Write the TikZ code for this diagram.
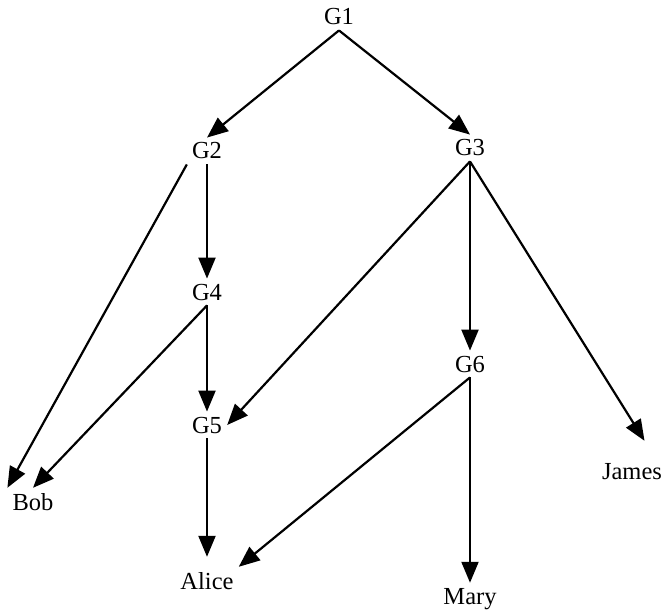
\documentclass[tikz,border=0pt]{standalone}
\usepackage{fontspec}
\setmainfont{Liberation Serif}
\usetikzlibrary{arrows.meta}

\begin{document}
\begin{tikzpicture}[
    x=1pt, y=-1pt,
    font=\fontsize{24.5}{28}\selectfont,
    >={Triangle[length=21pt,width=17pt]},
    grp/.style={
        anchor=base,
        inner sep=5pt
    },
    edge/.style={
        ->,
        line width=2.2pt
    }
]
\useasboundingbox (0,0) rectangle (664,615);

% Group nodes
\node[grp] (g1) at (339,25) {G1};
\node[grp] (g2) at (207,159) {G2};
\node[grp] (g3) at (470,156) {G3};
\node[grp] (g4) at (207,300) {G4};
\node[grp] (g5) at (207,433) {G5};
\node[grp] (g6) at (470,372) {G6};

% Members
\node[grp] (bob) at (33,510) {Bob};
\node[grp] (alice) at (207,589) {Alice};
\node[grp] (mary) at (470,604) {Mary};
\node[grp] (james) at (632,479) {James};

% Connections
\draw[edge] (g1.south) -- (g2.north);
\draw[edge] (g1.south) -- (g3.north);

\draw[edge] (g2.south west) -- (bob.north west);
\draw[edge] (g2) -- (g4);

\draw[edge] (g4.south) -- (bob.north);
\draw[edge] (g4) -- (g5);

\draw[edge] (g3.south) -- (g5.east);
\draw[edge] (g3) -- (g6);
\draw[edge, shorten >=20pt] (g3.south) -- (james.30);

\draw[edge, shorten >=10pt] (g5) -- (alice);

\draw[edge] (g6.south) -- (alice.north east);
\draw[edge] (g6) -- (mary);

\end{tikzpicture}
\end{document}
